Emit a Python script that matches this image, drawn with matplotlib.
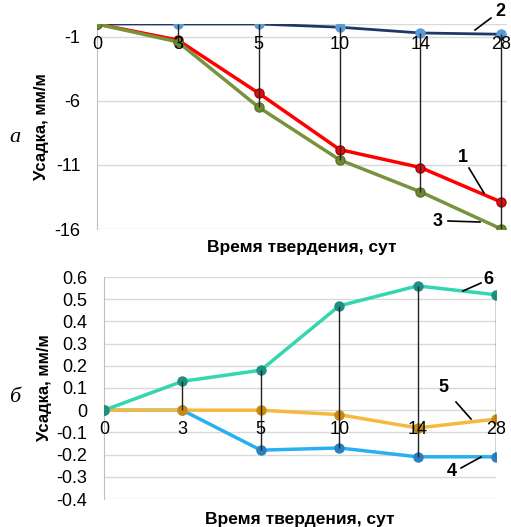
import numpy as np
import matplotlib.pyplot as plt

plt.rcParams['font.family'] = ['Liberation Sans', 'DejaVu Sans']

# Data
days = ["0", "3", "5", "10", "14", "28"]

top_1 = [0, -1.25, -5.4, -9.8, -11.2, -13.9]     # red
top_2 = [0, 0, 0, -0.25, -0.7, -0.8]             # navy
top_3 = [0, -1.4, -6.5, -10.6, -13.1, -16.0]     # olive
top_yticks = [-16, -11, -6, -1]

bot_4 = [0, 0, -0.18, -0.17, -0.21, -0.21]       # blue
bot_5 = [0, 0, 0, -0.02, -0.08, -0.04]           # orange
bot_6 = [0, 0.13, 0.18, 0.47, 0.56, 0.52]        # teal
bot_yticks = [-0.4, -0.3, -0.2, -0.1, 0, 0.1, 0.2, 0.3, 0.4, 0.5, 0.6]

W, H = 511, 527
fig = plt.figure(figsize=(W / 100, H / 100), dpi=100)


def style_axes(ax, yticks, ylim, xmax, xlab_y):
    ax.set_ylim(*ylim)
    ax.set_xlim(0, xmax)
    ax.set_yticks(yticks)
    ax.set_yticklabels([f"{v:g}" for v in yticks], fontsize=13)
    ax.set_xticks([])
    for s in ["top", "right", "bottom"]:
        ax.spines[s].set_visible(False)
    ax.spines["left"].set_color("#bfbfbf")
    ax.tick_params(axis="y", length=0, pad=12)
    ax.grid(axis="y", color="#d9d9d9", lw=1)
    ax.set_axisbelow(True)
    for i, d in enumerate(days):
        ax.text(i, xlab_y, d, ha="center", va="center", fontsize=13, zorder=6)


def drop_lines(ax, series):
    arr = np.array(series)
    x = np.arange(len(days))
    ax.vlines(x[1:], arr.min(axis=0)[1:], arr.max(axis=0)[1:], color="#222222", lw=1, zorder=5)


x = np.arange(len(days))

# top chart
ax1 = fig.add_axes([97 / W, 1 - 229 / H, 410 / W, 205 / H])
style_axes(ax1, top_yticks, (-16, 0), 5.07, -1.6)
ax1.axhline(0, color="#d9d9d9", lw=1, zorder=0)
ax1.plot(x, top_2, color="#203864", lw=2, marker="o", ms=6.5, mfc="#5B9BD5", mec="#5B9BD5", zorder=3)
ax1.plot(x, top_1, color="#FF0000", lw=2.5, marker="o", ms=6.5, mfc="#E01010", mec="#B00000", zorder=3)
ax1.plot(x, top_3, color="#77933C", lw=2.5, marker="o", ms=6.5, mfc="#6B8A32", mec="#5A7328", zorder=4)
drop_lines(ax1, [top_1, top_2, top_3])
ax1.set_ylabel("Усадка, мм/м", fontsize=12, fontweight="bold", labelpad=4)
ax1.text(0.5, -0.055, "Время твердения, сут", transform=ax1.transAxes,
         ha="center", va="top", fontsize=12.5, fontweight="bold")

# bottom chart
ax2 = fig.add_axes([104 / W, 1 - 499 / H, 392 / W, 222 / H])
style_axes(ax2, bot_yticks, (-0.4, 0.6), 5.0, -0.085)
ax2.plot(x, bot_4, color="#29B0F0", lw=2.5, marker="o", ms=6.5, mfc="#2A7FC0", mec="#2A7FC0", zorder=3)
ax2.plot(x, bot_5, color="#F5B940", lw=2.5, marker="o", ms=6.5, mfc="#C98A10", mec="#C98A10", zorder=3)
ax2.plot(x, bot_6, color="#33D6B0", lw=2.5, marker="o", ms=6.5, mfc="#1E8F80", mec="#1E8F80", zorder=4)
drop_lines(ax2, [bot_4, bot_5, bot_6])
ax2.set_ylabel("Усадка, мм/м", fontsize=12, fontweight="bold", labelpad=3)
ax2.text(0.5, -0.06, "Время твердения, сут", transform=ax2.transAxes,
         ha="center", va="top", fontsize=12.5, fontweight="bold")

# panel letters
fig.text(15 / W, 1 - 138 / H, "а", fontsize=16, style="italic", family="Liberation Serif", ha="center", va="center")
fig.text(15 / W, 1 - 398 / H, "б", fontsize=16, style="italic", family="Liberation Serif", ha="center", va="center")

# curve labels with leader lines (figure pixel coords)
def tag(txt, tx, ty, x0, y0, x1, y1):
    fig.text(tx / W, 1 - ty / H, txt, fontsize=13, fontweight="bold", ha="center", va="center")
    fig.add_artist(plt.Line2D([x0 / W, x1 / W], [1 - y0 / H, 1 - y1 / H], color="black", lw=1.2))

tag("2", 500, 12, 475, 30, 491, 18)
tag("1", 463, 158, 484, 193, 469, 168)
tag("3", 438, 221, 448, 221, 480, 222)
tag("6", 488, 280, 463, 291, 481, 283)
tag("5", 443, 387, 456, 402, 471, 419)
tag("4", 452, 472, 461, 468, 481, 457)

fig.savefig("out.png", dpi=100)
